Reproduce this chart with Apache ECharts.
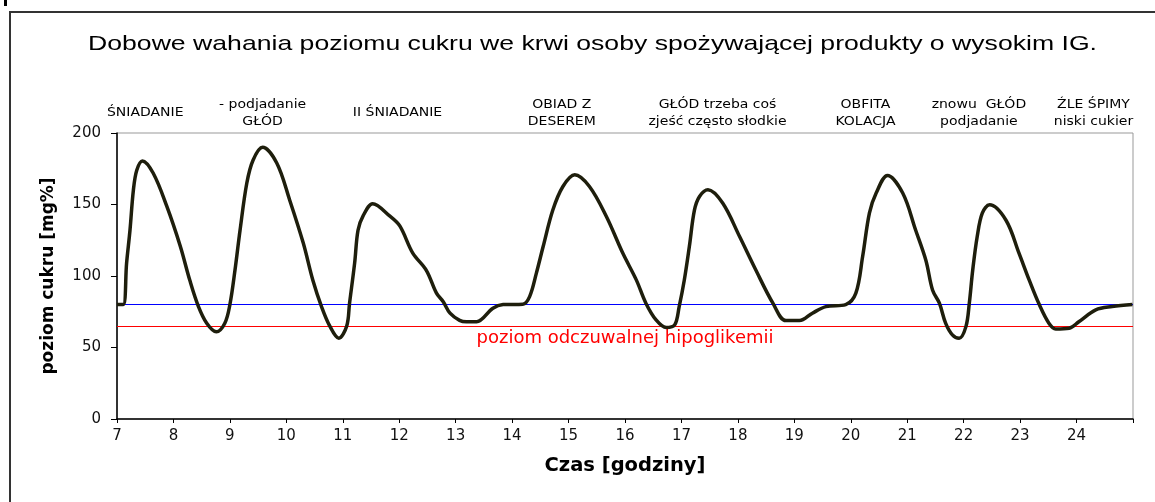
<!DOCTYPE html>
<html>
<head>
<meta charset="utf-8">
<script src="https://cdn.jsdelivr.net/npm/echarts@6/dist/echarts.min.js"></script>
<style>html,body{margin:0;padding:0;background:#fff}#c{width:1155px;height:502px}</style>
</head>
<body>
<div id="c"></div>
<script>
var hours = [7.00,7.11,7.17,7.23,7.29,7.35,7.45,7.64,7.88,8.12,8.29,8.44,8.59,8.76,8.91,9.00,9.09,9.18,9.30,9.41,9.58,9.83,10.06,10.30,10.47,10.62,10.77,10.93,11.07,11.12,11.21,11.27,11.36,11.53,11.83,12.01,12.24,12.48,12.66,12.78,12.90,13.07,13.19,13.37,13.66,13.84,14.19,14.31,14.43,14.55,14.72,14.90,15.11,15.37,15.67,15.96,16.20,16.37,16.55,16.73,16.88,16.96,17.05,17.14,17.23,17.32,17.47,17.73,18.03,18.32,18.62,18.85,19.09,19.32,19.56,19.91,20.09,20.21,20.33,20.45,20.65,20.92,21.15,21.33,21.45,21.57,21.68,21.80,21.92,22.04,22.10,22.16,22.24,22.33,22.46,22.75,22.98,23.16,23.34,23.51,23.63,23.87,24.04,24.34,24.63,24.99];
var glucose = [80,80,109,132,160,174,180.5,172,149,121,97,79,67,61,67,80,104,132,165,181,190,179,153,123,97,79,65,56.5,65,81,109,132,142,150.5,142,135,116,104,88,82,74,69,68,68,77.5,80,80.3,85.6,102,120.6,146,162.6,170.8,162.6,141.6,116,97.3,81,69.3,64,65.8,78.6,97,120.6,146,155.6,160.3,151,127.6,104,81,68.8,68.8,74,78.6,80,88,113.6,144,158,170.3,158,132,111,90,81,67,58.8,56.5,64.6,81,104,127.6,144,149.8,139,116,97.3,80,67,63,63.5,68,76.3,78.6,80];
var normalLevel = 80;
var hypoLevel = 65;
var hypoText = 'poziom odczuwalnej hipoglikemii';
var mealHours = [7.5, 9.58, 11.97, 14.88, 17.64, 20.26, 22.27, 24.3];
var mealLabels = ['ŚNIADANIE', '- podjadanie\nGŁÓD', 'II ŚNIADANIE', 'OBIAD Z\nDESEREM', 'GŁÓD trzeba coś\nzjeść często słodkie', 'OBFITA\nKOLACJA', 'znowu  GŁÓD\npodjadanie', 'ŹLE ŚPIMY\nniski cukier'];
var yTicks = [0, 50, 100, 150, 200];
var xMin = 7, xMax = 25;
var titleText = 'Dobowe wahania poziomu cukru we krwi osoby spożywającej produkty o wysokim IG.';

var chart = echarts.init(document.getElementById('c'));
var pts = hours.map(function(h, i){ return [h, glucose[i]]; });
var option = {
  animation: false,
  backgroundColor: '#fff',
  grid: {left: 117, right: 22, top: 133, bottom: 83, show: true, borderColor: '#999', borderWidth: 1},
  xAxis: {
    type: 'value', min: xMin, max: xMax, interval: 1,
    name: 'Czas [godziny]', nameLocation: 'middle', nameGap: 37,
    nameTextStyle: {fontFamily: 'DejaVu Sans', fontSize: 19.5, fontWeight: 'bold', color: '#000'},
    axisLine: {show: true, lineStyle: {color: '#000', width: 1.5}},
    axisTick: {show: true, length: 4, lineStyle: {color: '#000'}},
    axisLabel: {fontFamily: 'DejaVu Sans', fontSize: 15, color: '#111', margin: 10,
      formatter: function(v){ return v >= xMax ? '' : String(v); }},
    splitLine: {show: false}
  },
  yAxis: {
    type: 'value', min: 0, max: 200, interval: 50,
    name: 'poziom cukru [mg%]', nameLocation: 'middle', nameGap: 60,
    nameTextStyle: {fontFamily: 'DejaVu Sans', fontSize: 17, fontWeight: 'bold', color: '#000'},
    axisLine: {show: true, lineStyle: {color: '#000', width: 1.5}},
    axisTick: {show: true, length: 6, lineStyle: {color: '#000'}},
    axisLabel: {fontFamily: 'DejaVu Sans', fontSize: 15, color: '#111', margin: 16,
      formatter: function(v){ return yTicks.indexOf(v) >= 0 ? String(v) : ''; }},
    splitLine: {show: false}
  },
  series: [
    {
      type: 'line', data: [], symbol: 'none', silent: true,
      markLine: {
        silent: true, symbol: 'none', animation: false,
        data: [
          {yAxis: normalLevel, lineStyle: {color: '#0000ff', width: 1.2, type: 'solid'}, label: {show: false}},
          {yAxis: hypoLevel, lineStyle: {color: '#ff0000', width: 1.2, type: 'solid'},
            label: {show: true, formatter: hypoText, position: 'insideMiddleBottom', color: '#ff0000',
              fontFamily: 'DejaVu Sans', fontSize: 18, distance: 3}}
        ]
      }
    },
    {
      type: 'line', data: pts, symbol: 'none', smooth: 0.35,
      lineStyle: {color: '#1e1e0c', width: 3.5}, z: 5
    }
  ]
};
chart.setOption(option);

function measure(text, font){
  var ctx = document.createElement('canvas').getContext('2d');
  ctx.font = font;
  return ctx.measureText(text).width;
}
var titleFont = '21px "Liberation Sans", Arial';
var titleW = measure(titleText, titleFont);
var titleScale = 1009 / titleW;

var g = [
  {type: 'rect', shape: {x: 10, y: 12, width: 1200, height: 600}, style: {fill: 'none', stroke: '#333', lineWidth: 2}, silent: true},
  {type: 'rect', shape: {x: 4, y: 0, width: 3, height: 6}, style: {fill: '#000'}, silent: true},
  {type: 'text', x: 592.5, y: 44, scaleX: titleScale, silent: true,
    style: {text: titleText, align: 'center', verticalAlign: 'middle', font: titleFont, fill: '#000'}}
];
mealHours.forEach(function(h, i){
  var px = chart.convertToPixel({xAxisIndex: 0}, h);
  g.push({type: 'text', x: px, y: 113, scaleX: 1.12, silent: true,
    style: {text: mealLabels[i], align: 'center', verticalAlign: 'middle', lineHeight: 17,
      fontFamily: 'DejaVu Sans', fontSize: 12.5, fill: '#000'}});
});
chart.setOption({graphic: g});
</script>
</body>
</html>
